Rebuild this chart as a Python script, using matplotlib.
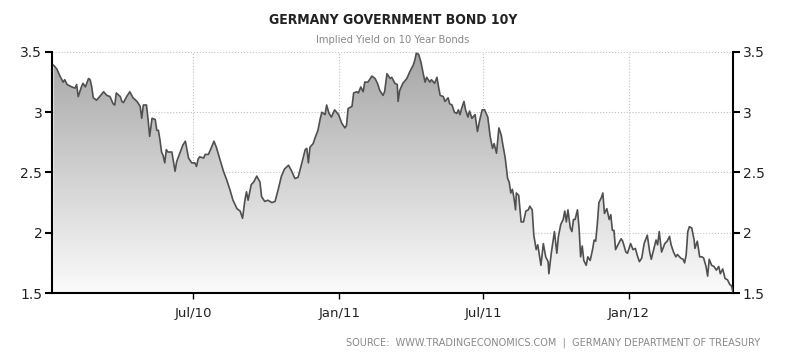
import numpy as np
import pandas as pd
import matplotlib
matplotlib.use("Agg")
import matplotlib.pyplot as plt
import matplotlib.dates as mdates
from matplotlib.colors import LinearSegmentedColormap

# days counted from 2010-01-01, yield in percent
day = [5, 9, 13, 17, 19, 22, 28, 32, 34, 36, 40, 42, 45, 49, 51, 53, 55, 59, 63, 68,
       72, 76, 80, 82, 84, 89, 91, 93, 97, 101, 105, 110, 114, 116, 118, 122, 124, 126, 129, 133,
       135, 137, 139, 141, 143, 145, 147, 149, 154, 158, 160, 164, 168, 171, 175, 179, 183, 185, 187, 189,
       194, 196, 200, 204, 207, 210, 215, 219, 223, 227, 231, 236, 240, 243, 246, 248, 250, 254, 257, 261,
       265, 267, 271, 275, 280, 284, 288, 292, 296, 301, 305, 309, 313, 317, 322, 324, 326, 328, 332, 334,
       338, 341, 343, 347, 349, 352, 355, 359, 364, 368, 372, 374, 376, 381, 383, 387, 389, 392, 395, 397,
       401, 406, 410, 413, 416, 420, 422, 425, 429, 431, 435, 438, 439, 441, 445, 450, 454, 458, 460, 462,
       465, 468, 471, 473, 475, 479, 481, 485, 488, 490, 492, 496, 498, 502, 504, 507, 510, 513, 515, 517,
       519, 522, 524, 527, 529, 532, 536, 539, 542, 545, 548, 552, 555, 558, 560, 563, 566, 569, 571, 574,
       577, 579, 581, 583, 585, 587, 588, 591, 594, 597, 600, 603, 605, 608, 610, 613, 615, 619, 622, 625,
       628, 629, 632, 636, 639, 641, 644, 647, 649, 651, 653, 656, 658, 660, 662, 665, 667, 669, 671, 673,
       676, 678, 681, 684, 686, 688, 690, 692, 695, 697, 699, 702, 705, 707, 709, 711, 713, 716, 720, 722,
       726, 728, 732, 735, 738, 740, 743, 746, 749, 753, 756, 758, 761, 764, 766, 768, 771, 775, 778, 781,
       783, 786, 789, 791, 795, 798, 800, 802, 804, 806, 809, 812, 813, 816, 819, 822, 824, 827, 829, 831,
       834, 837, 840, 843, 845, 848, 851, 854, 857, 859, 861]
yld = [3.39, 3.36, 3.30, 3.25, 3.27, 3.23, 3.21, 3.20, 3.23, 3.13, 3.21, 3.24, 3.21, 3.28, 3.27, 3.21, 3.12, 3.10, 3.13, 3.17,
       3.14, 3.13, 3.07, 3.06, 3.16, 3.13, 3.09, 3.08, 3.13, 3.17, 3.12, 3.09, 3.05, 2.95, 3.06, 3.06, 2.94, 2.80, 2.95, 2.94,
       2.85, 2.85, 2.77, 2.67, 2.64, 2.58, 2.69, 2.67, 2.67, 2.51, 2.59, 2.66, 2.73, 2.76, 2.62, 2.58, 2.58, 2.55, 2.61, 2.63,
       2.62, 2.65, 2.65, 2.71, 2.76, 2.71, 2.60, 2.51, 2.44, 2.36, 2.27, 2.20, 2.18, 2.12, 2.27, 2.34, 2.27, 2.40, 2.42, 2.47,
       2.42, 2.30, 2.26, 2.27, 2.25, 2.26, 2.36, 2.47, 2.53, 2.56, 2.51, 2.45, 2.46, 2.56, 2.69, 2.70, 2.58, 2.71, 2.74, 2.78,
       2.85, 2.95, 3.00, 2.98, 3.06, 2.99, 2.96, 3.02, 2.98, 2.91, 2.87, 2.89, 3.03, 3.05, 3.16, 3.17, 3.16, 3.21, 3.17, 3.25,
       3.25, 3.30, 3.28, 3.24, 3.18, 3.14, 3.17, 3.32, 3.28, 3.29, 3.24, 3.23, 3.09, 3.18, 3.24, 3.28, 3.34, 3.39, 3.43, 3.49,
       3.48, 3.41, 3.31, 3.25, 3.29, 3.25, 3.27, 3.24, 3.29, 3.21, 3.14, 3.13, 3.09, 3.12, 3.07, 3.06, 3.00, 2.99, 3.02, 2.98,
       3.03, 3.09, 3.02, 2.96, 3.01, 2.95, 2.98, 2.84, 2.94, 3.02, 3.02, 2.96, 2.80, 2.70, 2.74, 2.66, 2.87, 2.81, 2.73, 2.62,
       2.45, 2.42, 2.33, 2.36, 2.29, 2.19, 2.33, 2.31, 2.09, 2.09, 2.18, 2.19, 2.22, 2.19, 1.98, 1.86, 1.90, 1.73, 1.91, 1.80,
       1.76, 1.66, 1.83, 2.01, 1.83, 1.97, 2.07, 2.11, 2.18, 2.09, 2.19, 2.04, 2.01, 2.11, 2.11, 2.19, 2.04, 1.80, 1.89, 1.77,
       1.73, 1.80, 1.77, 1.86, 1.94, 1.93, 2.07, 2.25, 2.29, 2.33, 2.16, 2.20, 2.11, 2.15, 2.02, 2.02, 1.86, 1.90, 1.95, 1.93,
       1.84, 1.83, 1.91, 1.86, 1.87, 1.82, 1.76, 1.79, 1.91, 1.98, 1.84, 1.78, 1.86, 1.94, 1.90, 2.01, 1.84, 1.91, 1.93, 1.97,
       1.90, 1.84, 1.80, 1.82, 1.79, 1.78, 1.75, 1.82, 2.01, 2.05, 2.04, 1.94, 1.87, 1.93, 1.80, 1.80, 1.79, 1.72, 1.64, 1.78,
       1.73, 1.72, 1.69, 1.72, 1.66, 1.70, 1.62, 1.61, 1.57, 1.56, 1.51]

tick_dates = ["2010-07-01", "2011-01-01", "2011-07-01", "2012-01-01"]
tick_labels = ["Jul/10", "Jan/11", "Jul/11", "Jan/12"]
y_ticks = [1.5, 2, 2.5, 3, 3.5]
y_labels = ["1.5", "2", "2.5", "3", "3.5"]

start = pd.Timestamp("2010-01-01")
dates = start + pd.to_timedelta(day, unit="D")
x = mdates.date2num(dates.to_pydatetime())
x0 = mdates.date2num(start + pd.Timedelta(days=3))
x1 = mdates.date2num(start + pd.Timedelta(days=861))

fig = plt.figure(figsize=(7.86, 3.59), dpi=100)
ax = fig.add_axes([0.0662, 0.1838, 0.8664, 0.6714])

# gradient fill under the line
cmap = LinearSegmentedColormap.from_list("g", ["#fbfbfb", "#a6a6a6"])
grad = np.linspace(0, 1, 256).reshape(-1, 1)
img = ax.imshow(grad, extent=[x0, x1, 1.5, 3.5], origin="lower", aspect="auto",
                cmap=cmap, zorder=1)
poly = ax.fill_between(x, yld, 1.5, facecolor="none", edgecolor="none")
img.set_clip_path(poly.get_paths()[0], transform=ax.transData)

ax.plot(x, yld, color="#505050", lw=1.2, zorder=3)

ax.set_xlim(x0, x1)
ax.set_ylim(1.5, 3.5)
ax.set_xticks(mdates.date2num(pd.to_datetime(tick_dates).to_pydatetime()))
ax.set_xticklabels(tick_labels, fontsize=9.5, color="#222222")
ax.set_yticks(y_ticks)
ax.set_yticklabels(y_labels, fontsize=10, color="#222222")
ax.tick_params(axis="y", left=True, right=True, labelleft=True, labelright=True,
               length=5, width=1.5, pad=2)
ax.tick_params(axis="x", length=4, width=1, pad=6)

ax.grid(True, color="#c0c0c0", linestyle=":", linewidth=0.8, zorder=0)
ax.set_axisbelow(True)
ax.spines["top"].set_visible(False)
for s in ["left", "right", "bottom"]:
    ax.spines[s].set_linewidth(1.5)
    ax.spines[s].set_color("black")

fig.text(0.5, 0.943, "GERMANY GOVERNMENT BOND 10Y", ha="center", va="center",
         fontsize=10, fontweight="bold", fontstretch="condensed",
         family="DejaVu Sans", color="#222222")
fig.text(0.5, 0.888, "Implied Yield on 10 Year Bonds", ha="center", va="center",
         fontsize=7.2, color="#888888")
fig.text(0.967, 0.045, "SOURCE:  WWW.TRADINGECONOMICS.COM  |  GERMANY DEPARTMENT OF TREASURY",
         ha="right", va="center", fontsize=7, color="#888888")

fig.savefig("out.png", dpi=100, facecolor="white")
